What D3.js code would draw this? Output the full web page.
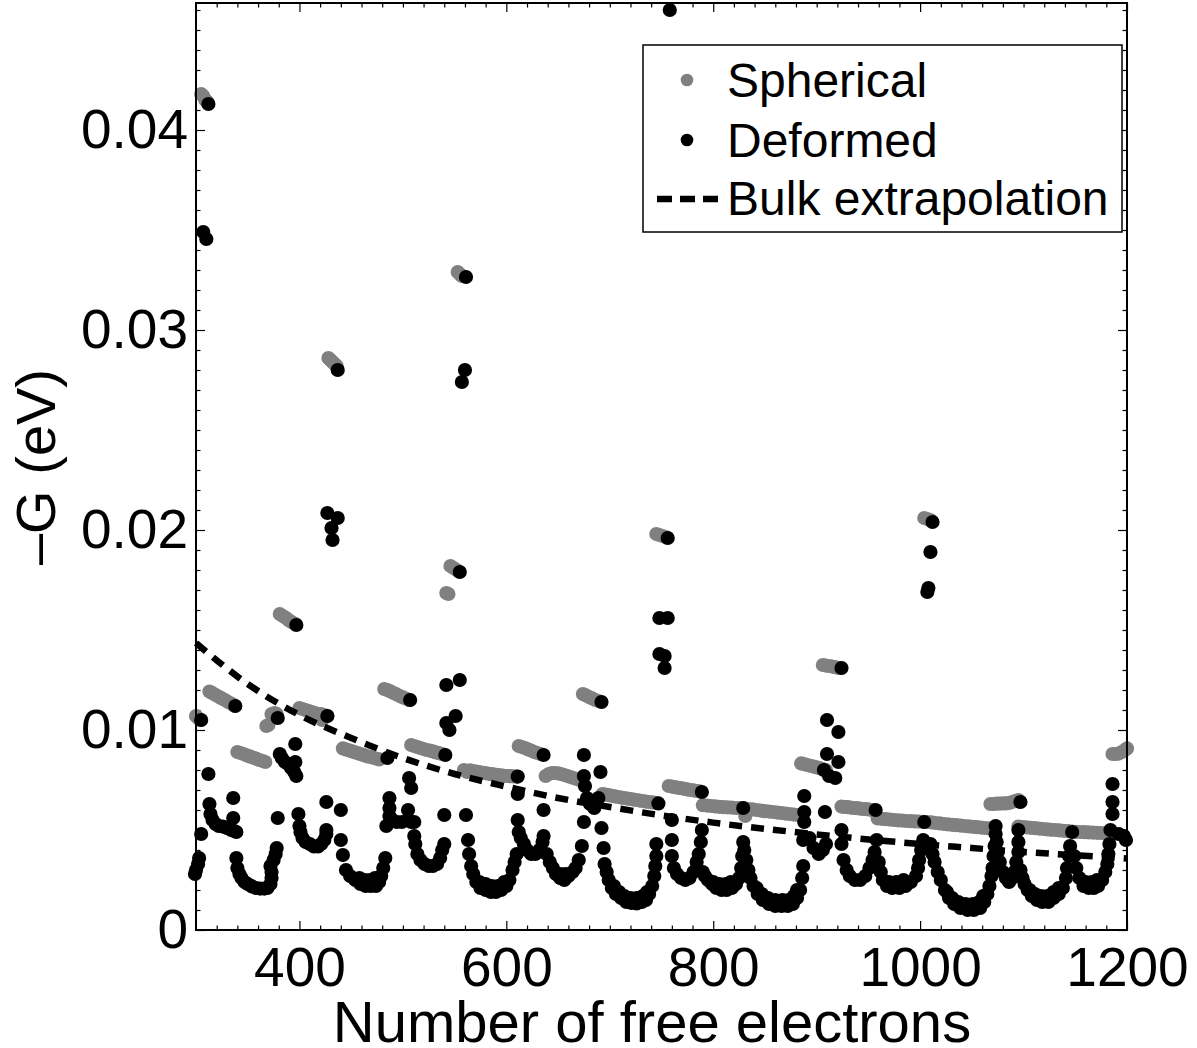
<!DOCTYPE html>
<html><head><meta charset="utf-8">
<script src="https://cdn.jsdelivr.net/npm/d3@7"></script>
<style>body{margin:0;background:#fff;} svg{display:block;}</style>
</head><body><svg id="c" width="1197" height="1048"></svg>
<script>
// ---------- data ----------
const xTicks = [400, 600, 800, 1000, 1200];
const yTicks = [0, 0.01, 0.02, 0.03, 0.04];
const legendLabels = ["Spherical", "Deformed", "Bulk extrapolation"];
const xLabel = "Number of free electrons";
const yLabel = "–G (eV)";

const bulkN = [300, 350, 400, 450, 500, 550, 600, 650, 700, 750, 800, 850, 900, 950, 1000, 1050, 1100, 1150, 1200];
const bulkG = [0.01435, 0.0123, 0.01075, 0.0096, 0.0086, 0.0078, 0.00717, 0.0066, 0.00615, 0.00573, 0.00537, 0.00506, 0.00478, 0.00453, 0.0043, 0.0041, 0.0039, 0.00374, 0.00358];

const spherical = [
[300,0.0107],[302,0.0106],[304,0.0105],
[305,0.0418],[307,0.0417],[309,0.0415],[311,0.0414],
[313,0.01192],[316,0.01184],[319,0.01175],[322,0.01166],[325,0.01158],[328,0.0115],[331,0.0114],[334,0.01132],[337,0.01122],
[340,0.0089],[343,0.00885],[346,0.0088],[349,0.00873],[352,0.00868],[355,0.00862],[358,0.00857],[361,0.0085],[364,0.00846],[367,0.0084],
[368,0.0102],[370,0.01025],[373,0.0108],[376,0.01085],[378,0.0108],
[381,0.0158],[384,0.0157],[387,0.0156],[390,0.01548],[393,0.01538],[396,0.0153],
[400,0.0111],[403,0.01105],[406,0.011],[409,0.01095],[412,0.0109],[415,0.01085],[418,0.0108],[421,0.0108],[422,0.0105],[424,0.01075],[427,0.0107],
[428,0.0286],[430,0.0285],[432,0.0284],[434,0.0283],[436,0.0282],
[442,0.00908],[445,0.00903],[448,0.00898],[451,0.00893],[454,0.00888],[457,0.00883],[460,0.00878],[463,0.00873],[466,0.00868],[469,0.00865],[472,0.0086],[475,0.00856],[477,0.00853],
[482,0.01205],[485,0.012],[488,0.01193],[491,0.01185],[494,0.01178],[497,0.0117],[500,0.01163],[503,0.01157],[506,0.0115],
[508,0.00925],[511,0.0092],[514,0.00915],[517,0.0091],[520,0.00905],[523,0.009],[526,0.00897],[529,0.00893],[532,0.00888],[535,0.00884],[538,0.0088],
[542,0.01685],[544,0.0168],
[546,0.0182],[549,0.0181],[552,0.018],
[553,0.0329],[555,0.0328],[557,0.0327],
[559,0.008],[562,0.0079],[565,0.00798],[568,0.00795],[571,0.00792],[574,0.00789],[577,0.00786],[580,0.00784],[583,0.00781],[586,0.00779],[589,0.00777],[592,0.00775],[595,0.00773],[598,0.00771],[601,0.0077],[604,0.00769],[607,0.00768],[610,0.00767],
[612,0.0092],[615,0.00915],[618,0.0091],[621,0.00903],[624,0.00897],[627,0.0089],[630,0.00885],[633,0.0088],
[638,0.0077],[641,0.0078],[644,0.00785],[647,0.00785],[650,0.00783],[653,0.0078],[656,0.00775],[659,0.0077],[662,0.00765],[665,0.0076],[668,0.00755],[671,0.0075],
[674,0.0118],[677,0.01173],[680,0.01165],[683,0.01158],[686,0.0115],[689,0.01145],
[693,0.0068],[696,0.00677],[699,0.00674],[702,0.00671],[705,0.00668],[708,0.00665],[711,0.00662],[714,0.0066],[717,0.00657],[720,0.00655],[723,0.00652],[726,0.0065],[729,0.00647],[732,0.00645],[735,0.00642],[738,0.0064],[741,0.00638],[744,0.00636],
[745,0.0198],[748,0.01975],[751,0.0197],[754,0.01965],
[757,0.0072],[760,0.00717],[763,0.00714],[766,0.00711],[769,0.00709],[772,0.00706],[775,0.00703],[778,0.007],[781,0.00698],[784,0.00695],[787,0.00693],
[790,0.00624],[794,0.00622],[798,0.0062],[802,0.00618],[806,0.00616],[810,0.00614],[814,0.00613],[818,0.00612],[822,0.0061],[826,0.00609],[830,0.00608],[831,0.0057],[834,0.00605],[838,0.00603],[842,0.006],[846,0.00597],[850,0.00594],[854,0.00592],[858,0.0059],[862,0.00587],[866,0.00585],[870,0.00582],[874,0.0058],[878,0.00577],[882,0.00575],
[885,0.00833],[888,0.00829],[891,0.00825],[894,0.00821],[897,0.00817],[900,0.00813],[903,0.00809],[906,0.00805],[909,0.008],
[906,0.01325],[909,0.01322],[912,0.0132],[915,0.01317],[918,0.01314],[921,0.0131],
[924,0.00617],[927,0.00615],[930,0.00614],[933,0.00612],[936,0.0061],[939,0.00609],[942,0.00607],[945,0.00605],[948,0.00604],[951,0.00602],[954,0.006],
[959,0.00558],[963,0.00556],[967,0.00554],[971,0.00552],[975,0.0055],[979,0.00548],[983,0.00547],[987,0.00545],[991,0.00544],[995,0.00543],[999,0.00542],[1003,0.00541],[1007,0.0054],[1011,0.00538],[1015,0.00535],[1019,0.00533],[1023,0.0053],[1027,0.00528],[1031,0.00526],[1035,0.00524],[1039,0.00522],[1043,0.0052],[1047,0.00518],[1051,0.00516],[1055,0.00514],[1059,0.00512],[1063,0.0051],[1067,0.00508],
[1004,0.0206],[1007,0.02055],[1010,0.0205],
[1068,0.0063],[1071,0.0063],[1074,0.00632],[1077,0.00632],[1080,0.00633],[1083,0.00633],[1086,0.00635],[1089,0.0064],[1092,0.00645],[1095,0.0065],
[1095,0.00517],[1099,0.00515],[1103,0.00513],[1107,0.00511],[1111,0.00509],[1115,0.00507],[1119,0.00505],[1123,0.00503],[1127,0.00501],[1131,0.005],[1135,0.00498],[1139,0.00496],[1143,0.00494],[1147,0.00492],[1151,0.00491],[1155,0.0049],[1159,0.00489],[1163,0.00488],[1167,0.00487],[1171,0.00486],[1175,0.00485],[1179,0.00484],[1183,0.00483],[1186,0.00482],
[1186,0.0088],[1189,0.0088],[1192,0.00882],[1195,0.0089],[1198,0.009],[1200,0.00908]
];

const deformed = [
[299,0.0028],[300,0.003],[302,0.0033],[303,0.0036],[305,0.0048],[305,0.0105],[307,0.0349],[310,0.03455],[312,0.0413],[312,0.0078],
[313,0.0063],[314,0.0058],[316,0.0055],[319,0.0053],[322,0.0052],[326,0.00517],[330,0.0051],[334,0.005],[337,0.00495],[339,0.0049],[336,0.0056],[336,0.0066],[338,0.0112],
[339,0.0036],[340,0.0031],[342,0.0028],[344,0.0026],[347,0.0024],[350,0.0023],[354,0.00218],[358,0.0021],[362,0.00207],[366,0.00207],[369,0.0021],[372,0.0023],[373,0.0026],[373,0.0029],[372,0.0032],[375,0.0035],[377,0.0038],[378,0.0041],[379,0.0056],[379,0.0106],
[381,0.0088],[383,0.0086],[386,0.0084],[389,0.0083],[392,0.0081],[395,0.0079],[397,0.0077],[396,0.0093],[396,0.0084],[397,0.01525],
[399,0.0058],
[400,0.0052],[401,0.0049],[403,0.0046],[406,0.0044],[410,0.0043],[414,0.00418],[418,0.00418],[421,0.0043],[424,0.0045],[426,0.0048],[426,0.005],[426,0.0064],[427,0.0107],
[427,0.02085],[437,0.0206],[431,0.0201],[432,0.0195],[437,0.028],
[440,0.006],[440,0.0045],[442,0.00375],[445,0.003],[449,0.0027],[454,0.0025],[459,0.0023],[464,0.0022],[469,0.0022],[474,0.0022],[477,0.0024],[479,0.0027],[481,0.0031],[483,0.0036],
[458,0.0026],[463,0.0025],[468,0.0025],[473,0.0026],
[484,0.0052],[487,0.0057],[487,0.0061],[487,0.0066],[485,0.0086],[490,0.0055],[494,0.0054],[499,0.0054],[505,0.006],[505,0.0055],[508,0.0054],[511,0.0054],[506,0.0076],[508,0.0071],[507,0.0115],
[511,0.0047],[512,0.0043],[514,0.0038],[517,0.0035],[521,0.0033],[525,0.0032],[529,0.0032],[533,0.0033],[536,0.0036],[538,0.004],[540,0.0043],[540,0.00575],[541,0.00875],
[542,0.01225],[555,0.0125],[542,0.01035],[551,0.0107],[545,0.01],[555,0.0179],[561,0.03265],[560,0.028],[557,0.0274],
[561,0.00575],[563,0.0045],[564,0.0038],[566,0.0032],[568,0.0028],[571,0.0024],[575,0.0021],[580,0.002],[585,0.0019],[590,0.0019],[595,0.002],[600,0.0022],[603,0.0025],[606,0.003],[608,0.0034],[610,0.0038],[611,0.0055],[611,0.0068],[611,0.00767],
[574,0.0024],[580,0.0023],[586,0.0022],[592,0.0022],[598,0.0024],
[612,0.0049],[614,0.0046],[617,0.0043],[620,0.004],[624,0.0038],[628,0.0038],[632,0.004],[635,0.0044],[636,0.0047],[636,0.006],[636,0.00875],
[639,0.0038],[642,0.0034],[645,0.0031],[648,0.0028],[652,0.0026],[656,0.0025],[660,0.0027],[664,0.0029],[667,0.0031],[670,0.0035],[673,0.0042],
[652,0.0028],[657,0.0028],
[675,0.00875],[691,0.0079],[675,0.0077],[676,0.0072],[678,0.0066],[689,0.0066],[681,0.0063],[685,0.0061],[675,0.0054],[692,0.0051],[694,0.0041],[692,0.0114],
[695,0.0033],[697,0.0029],[699,0.0025],[702,0.0021],[706,0.0018],[711,0.0016],[716,0.0014],[721,0.00135],[726,0.00133],[731,0.0014],[735,0.0015],[738,0.0018],[741,0.0022],[743,0.0027],[744,0.0032],[745,0.0037],[745,0.0043],
[704,0.0022],[709,0.0019],[714,0.0017],[720,0.0016],[726,0.0016],[732,0.0017],[736,0.0019],
[747,0.00633],[748,0.0156],[756,0.0156],[748,0.0138],[753,0.0137],[753,0.0131],[756,0.0196],[758,0.046],
[760,0.0055],[760,0.0045],[760,0.0037],[762,0.0031],[765,0.0028],[769,0.0026],[773,0.0025],[777,0.0026],[781,0.0029],[784,0.0034],[786,0.0038],[788,0.0044],[789,0.005],[789,0.0069],
[790,0.0029],[792,0.0027],[795,0.0025],[799,0.0023],[803,0.0021],[808,0.002],[813,0.002],[818,0.0021],[822,0.0023],[825,0.0026],[827,0.0031],[828,0.0037],[829,0.0044],[829,0.0061],
[800,0.0024],[806,0.0023],[812,0.0023],[817,0.0024],
[830,0.004],[832,0.0035],[834,0.003],[836,0.0026],[839,0.0022],[843,0.0018],[848,0.0015],[854,0.0013],[860,0.0012],[866,0.0012],[872,0.0012],[877,0.0013],[881,0.0016],[884,0.002],[886,0.0026],[887,0.0032],[887,0.0045],[888,0.0054],[888,0.0059],[888,0.0067],
[842,0.0021],[847,0.0018],[853,0.0016],[860,0.0015],[867,0.0015],[873,0.0015],[878,0.0017],[881,0.002],
[893,0.0046],[897,0.0041],[902,0.0038],[906,0.004],[909,0.0043],[908,0.0059],[907,0.008],[910,0.0088],[921,0.0084],[912,0.0077],[918,0.0076],[910,0.0105],[921,0.0099],[924,0.0131],
[924,0.005],[924,0.0043],[926,0.0035],[929,0.003],[932,0.0027],[937,0.0025],[942,0.0025],[947,0.0027],[951,0.0031],[954,0.0035],[956,0.0039],[958,0.0045],[957,0.006],
[960,0.0034],[962,0.0029],[964,0.0025],[968,0.0022],[973,0.0021],[980,0.0021],[986,0.0022],[991,0.0024],[996,0.0027],[998,0.0031],[999,0.0035],[1001,0.004],[1003,0.0045],[1004,0.0054],
[970,0.0024],[977,0.0024],[984,0.0025],
[1007,0.0169],[1008,0.0171],[1010,0.0189],[1012,0.0204],
[1010,0.0043],[1012,0.0038],[1014,0.0034],[1017,0.0029],[1020,0.0025],[1024,0.002],[1028,0.0016],[1033,0.0013],[1039,0.0011],[1046,0.001],[1052,0.001],[1058,0.0011],[1062,0.0014],[1065,0.0018],[1067,0.0022],[1069,0.0027],[1070,0.0031],[1071,0.0037],[1072,0.0042],[1073,0.0048],[1073,0.0052],
[1026,0.0019],[1031,0.0016],[1037,0.0014],[1044,0.0013],[1051,0.0013],[1057,0.0014],[1061,0.0017],
[1074,0.0044],[1075,0.0039],[1077,0.0034],[1080,0.0029],[1083,0.0026],[1086,0.0024],[1089,0.0026],[1091,0.0029],[1093,0.0034],[1095,0.0039],[1095,0.0044],[1095,0.005],[1097,0.0064],
[1097,0.003],[1099,0.0026],[1101,0.0023],[1104,0.002],[1108,0.0017],[1113,0.0015],[1118,0.0014],[1124,0.0014],[1129,0.0016],[1134,0.0018],[1138,0.0021],[1141,0.0026],[1142,0.0031],[1144,0.0037],[1145,0.0042],[1147,0.0049],
[1106,0.002],[1111,0.0018],[1117,0.0017],[1123,0.0017],[1129,0.0019],[1134,0.0021],
[1149,0.0037],[1151,0.0031],[1154,0.0026],[1158,0.0022],[1163,0.0021],[1168,0.0021],[1172,0.0022],[1176,0.0025],[1179,0.0029],[1181,0.0033],[1182,0.0038],[1183,0.0043],[1184,0.005],[1186,0.0058],[1186,0.0064],[1186,0.0073],[1192,0.0048],[1197,0.0047],[1199,0.0045],
[1160,0.0024],[1166,0.0024],[1171,0.0025]
];

// ---------- drawing ----------
const FONT = '"Liberation Sans", Arial, Helvetica, sans-serif';
const m = {l: 196, r: 1127, t: 3, b: 930};
const x = d3.scaleLinear().domain([300, 1200]).range([m.l, m.r]);
const y = d3.scaleLinear().domain([0, 0.04635]).range([m.b, m.t]);
const svg = d3.select("#c").style("font-family", FONT);

const xMinor = d3.range(16, 60).map(i => i * 20).filter(v => v > 300 && v < 1200 && v % 200 !== 0);
const yMinor = d3.range(1, 47).map(i => i / 1000).filter(v => Math.round(v * 1000) % 10 !== 0);

function axisG(gen, tr) {
  const g = svg.append("g").attr("transform", tr).call(gen);
  g.select(".domain").remove();
  g.selectAll(".tick line").attr("stroke", "#000").attr("stroke-width", 1.2);
  return g;
}
// minor ticks (all four sides)
axisG(d3.axisBottom(x).tickValues(xMinor).tickSizeInner(-4.5).tickSizeOuter(0).tickFormat(""), `translate(0,${m.b})`);
axisG(d3.axisTop(x).tickValues(xMinor).tickSizeInner(-4.5).tickSizeOuter(0).tickFormat(""), `translate(0,${m.t})`);
axisG(d3.axisLeft(y).tickValues(yMinor).tickSizeInner(-4.5).tickSizeOuter(0).tickFormat(""), `translate(${m.l},0)`);
axisG(d3.axisRight(y).tickValues(yMinor).tickSizeInner(-4.5).tickSizeOuter(0).tickFormat(""), `translate(${m.r},0)`);
// major ticks
const xb = axisG(d3.axisBottom(x).tickValues(xTicks).tickSizeInner(-9).tickSizeOuter(0).tickPadding(17).tickFormat(d3.format("d")), `translate(0,${m.b})`);
axisG(d3.axisTop(x).tickValues(xTicks).tickSizeInner(-9).tickSizeOuter(0).tickFormat(""), `translate(0,${m.t})`);
const yl = axisG(d3.axisLeft(y).tickValues(yTicks).tickSizeInner(-9).tickSizeOuter(0).tickPadding(8).tickFormat(d => d === 0 ? "0" : d3.format(".2f")(d)), `translate(${m.l},0)`);
axisG(d3.axisRight(y).tickValues(yTicks).tickSizeInner(-9).tickSizeOuter(0).tickFormat(""), `translate(${m.r},0)`);
[xb, yl].forEach(g => g.selectAll("text").attr("font-family", FONT).attr("font-size", 55).attr("fill", "#000"));

// data
const r = 7.1;
svg.append("g").selectAll("circle").data(spherical).join("circle")
  .attr("cx", d => x(d[0])).attr("cy", d => y(d[1])).attr("r", r).attr("fill", "#808080");
svg.append("g").selectAll("circle").data(deformed).join("circle")
  .attr("cx", d => x(d[0])).attr("cy", d => y(d[1])).attr("r", r).attr("fill", "#000");
const bulk = bulkN.map((n, i) => [n, bulkG[i]]);
svg.append("path").datum(bulk)
  .attr("d", d3.line().x(d => x(d[0])).y(d => y(d[1])).curve(d3.curveMonotoneX))
  .attr("fill", "none").attr("stroke", "#000").attr("stroke-width", 6.5).attr("stroke-dasharray", "13,9");

// frame
svg.append("rect").attr("x", m.l).attr("y", m.t).attr("width", m.r - m.l).attr("height", m.b - m.t)
  .attr("fill", "none").attr("stroke", "#000").attr("stroke-width", 2);

// titles
svg.append("text").attr("x", 652).attr("y", 1042).attr("text-anchor", "middle")
  .attr("font-size", 58).text(xLabel);
svg.append("text").attr("transform", "translate(55,467) rotate(-90)").attr("text-anchor", "middle")
  .attr("font-size", 56).text(yLabel);

// legend
const lg = svg.append("g");
lg.append("rect").attr("x", 643).attr("y", 45).attr("width", 479).attr("height", 187)
  .attr("fill", "#fff").attr("stroke", "#000").attr("stroke-width", 1.5);
const rowsY = [97, 157, 215];
lg.append("circle").attr("cx", 687).attr("cy", 80).attr("r", 6.3).attr("fill", "#808080");
lg.append("circle").attr("cx", 687).attr("cy", 140).attr("r", 6.3).attr("fill", "#000");
lg.append("line").attr("x1", 657).attr("x2", 718).attr("y1", 199).attr("y2", 199)
  .attr("stroke", "#000").attr("stroke-width", 6.5).attr("stroke-dasharray", "15,8");
lg.selectAll("text.lt").data(legendLabels).join("text").attr("class", "lt")
  .attr("x", 727).attr("y", (d, i) => rowsY[i]).attr("font-size", 48).text(d => d);
</script></body></html>
